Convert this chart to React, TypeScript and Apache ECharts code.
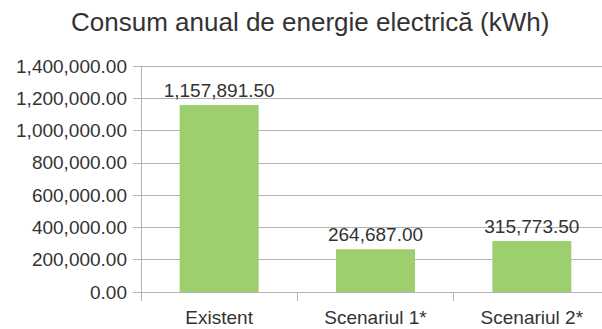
import React, { useEffect, useRef } from "react";
import * as echarts from "echarts";

const TITLE = "Consum anual de energie electrică (kWh)";
const categories = ["Existent", "Scenariul 1*", "Scenariul 2*"];
const consumption = [1157891.5, 264687.0, 315773.5];
const yMin = 0;
const yMax = 1400000;
const yStep = 200000;

const fmt = (v: number) =>
  v.toLocaleString("en-US", { minimumFractionDigits: 2, maximumFractionDigits: 2 });

export default function App() {
  const ref = useRef<HTMLDivElement>(null);
  useEffect(() => {
    if (!ref.current) return;
    const chart = echarts.init(ref.current, undefined, { renderer: "svg" });
    const font = "'Liberation Sans', Arial, sans-serif";
    chart.setOption({
      animation: false,
      backgroundColor: "#ffffff",
      textStyle: { fontFamily: font },
      title: {
        text: TITLE,
        left: 71,
        top: 9,
        padding: 0,
        textStyle: { fontFamily: font, fontSize: 26, fontWeight: "normal", color: "#333333" },
      },
      grid: { left: 141, top: 66, width: 469, height: 226, containLabel: false },
      xAxis: {
        type: "category",
        data: categories,
        axisLine: { show: true, lineStyle: { color: "#b3b3b3", width: 1 } },
        axisTick: { show: true, length: 9, alignWithLabel: false, lineStyle: { color: "#b3b3b3" } },
        axisLabel: { fontFamily: font, fontSize: 19, color: "#333333", margin: 16 },
        splitLine: { show: false },
      },
      yAxis: {
        type: "value",
        min: yMin,
        max: yMax,
        interval: yStep,
        axisLine: { show: true, lineStyle: { color: "#b3b3b3", width: 1 } },
        axisTick: { show: true, length: 8, lineStyle: { color: "#b3b3b3" } },
        axisLabel: { fontFamily: font, fontSize: 19, color: "#333333", margin: 14, formatter: (v: number) => fmt(v) },
        splitLine: { show: true, lineStyle: { color: "#b3b3b3", width: 1 } },
      },
      series: [
        {
          type: "bar",
          data: consumption,
          barWidth: 79,
          itemStyle: { color: "#9dcf6f" },
          label: {
            show: true,
            position: "top",
            distance: 5,
            fontFamily: font,
            fontSize: 19,
            color: "#333333",
            formatter: (p: any) => fmt(p.value),
          },
        },
      ],
    });
    return () => chart.dispose();
  }, []);
  return (
    <div
      ref={ref}
      style={{ position: "fixed", left: 0, top: 0, width: 640, height: 329, background: "#fff" }}
    />
  );
}
